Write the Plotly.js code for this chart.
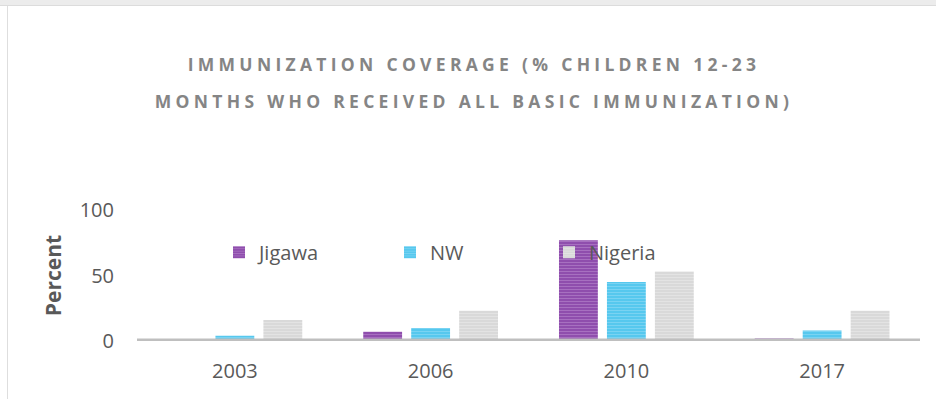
<!DOCTYPE html>
<html>
<head>
<meta charset="utf-8">
<script src="https://cdn.plot.ly/plotly-3.0.1.min.js"></script>
<style>
  html, body { margin: 0; padding: 0; background: #ffffff; }
  #wrap { position: relative; width: 936px; height: 399px; overflow: hidden; }
  #chart { width: 936px; height: 399px; }
  #topband { position: absolute; left: 0; top: 0; width: 936px; height: 5px; background: #ececec; border-bottom: 1px solid #dcdcdc; pointer-events: none; }
  #leftline { position: absolute; left: 7px; top: 6px; width: 1px; height: 393px; background: #dedede; pointer-events: none; }
  .gtitle { letter-spacing: 4.3px; }
</style>
</head>
<body>
<div id="wrap">
  <div id="chart"></div>
  <div id="topband"></div>
  <div id="leftline"></div>
</div>
<script>
// Data
var years = ['2003', '2006', '2010', '2017'];
var jigawa = [0, 7, 77, 2];
var nw = [4, 10, 45, 8];
var nigeria = [16, 23, 53, 23];
var seriesNames = ['Jigawa', 'NW', 'Nigeria'];
var yTicks = [0, 50, 100];

var FONT = 'Open Sans, Noto Sans, sans-serif';
var TXT = '#595959';
var PL = 137, PR = 920, PT = 209.5, PB = 341;

function barTrace(name, vals, bg, fg, legendId) {
  return {
    type: 'bar',
    name: name,
    x: years,
    y: vals,
    legend: legendId,
    marker: {
      color: bg,
      line: { width: 0 },
      pattern: { shape: '-', bgcolor: bg, fgcolor: fg, size: 3, solidity: 0.45, fillmode: 'overlay' }
    },
    hoverinfo: 'x+y+name'
  };
}

var data = [
  barTrace(seriesNames[0], jigawa, '#8a46a8', '#c39ad8', 'legend'),
  barTrace(seriesNames[1], nw, '#4ec5ec', '#a3e2f7', 'legend2'),
  barTrace(seriesNames[2], nigeria, '#d6d6d6', '#efefef', 'legend3')
];

function leg(xpx) {
  return {
    orientation: 'h', xref: 'paper', x: (xpx - PL) / (PR - PL), xanchor: 'left',
    yref: 'paper', y: (PB - 252) / (PB - PT), yanchor: 'middle',
    bgcolor: 'rgba(0,0,0,0)', borderwidth: 0,
    font: { family: FONT, size: 20, color: TXT }
  };
}

var layout = {
  width: 936,
  height: 399,
  paper_bgcolor: '#ffffff',
  plot_bgcolor: 'rgba(0,0,0,0)',
  margin: { l: PL, r: 936 - PR, t: PT, b: 399 - PB, pad: 0, autoexpand: false },
  font: { family: FONT, color: TXT },
  title: {
    text: 'IMMUNIZATION COVERAGE (% CHILDREN 12-23<br>MONTHS WHO RECEIVED ALL BASIC IMMUNIZATION)',
    xref: 'container', x: 474 / 936, xanchor: 'center',
    yref: 'container', y: 1 - 71 / 399, yanchor: 'top',
    font: { family: FONT, size: 17.5, color: '#858585', weight: 'bold' }
  },
  barmode: 'group',
  bargap: 0.265,
  bargroupgap: 0.19,
  showlegend: true,
  legend: leg(219),
  legend2: leg(390),
  legend3: leg(549),
  xaxis: {
    type: 'category',
    showline: false,
    showgrid: false,
    zeroline: false,
    ticks: '',
    tickfont: { family: FONT, size: 20, color: TXT },
    ticklabelstandoff: 16
  },
  yaxis: {
    range: [0, 100],
    tickvals: yTicks,
    ticktext: yTicks.map(String),
    showgrid: false,
    showline: false,
    zeroline: false,
    ticks: '',
    tickfont: { family: FONT, size: 20, color: TXT },
    ticklabelstandoff: 22,
    title: { text: 'Percent', font: { family: FONT, size: 21, color: TXT, weight: 'bold' }, standoff: 12 }
  },
  shapes: [
    { type: 'line', xref: 'paper', yref: 'y', x0: 0, x1: 1, y0: 0, y1: 0, layer: 'above',
      line: { color: '#bfbfbf', width: 5 } }
  ]
};

Plotly.newPlot('chart', data, layout, { displayModeBar: false, staticPlot: true }).then(function (gd) {
  // widen line spacing of the two-line title
  var tsp = gd.querySelectorAll('.gtitle tspan.line');
  if (tsp.length > 1) {
    tsp[1].setAttribute('dy', '2.1em');
  }
});
</script>
</body>
</html>
